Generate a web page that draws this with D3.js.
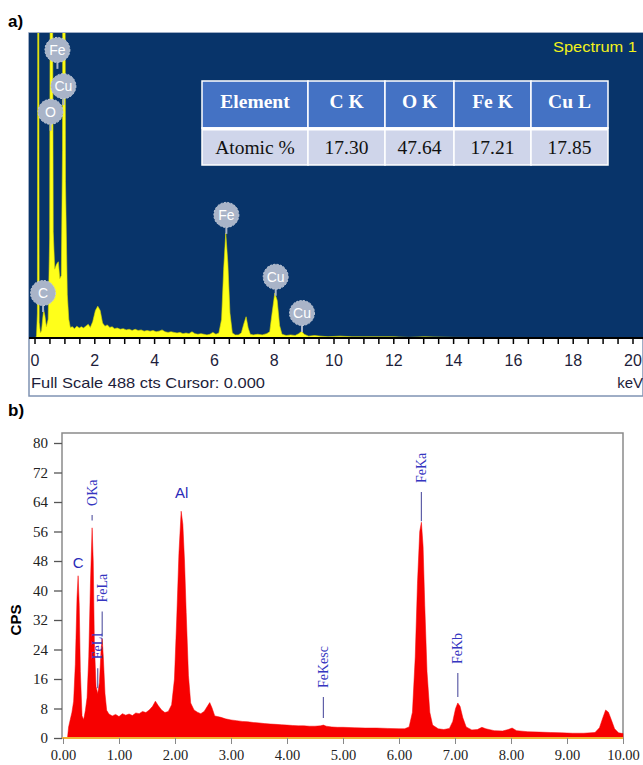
<!DOCTYPE html>
<html>
<head>
<meta charset="utf-8">
<script src="https://cdn.jsdelivr.net/npm/d3@7"></script>
<style>
  body { margin: 0; background: #fff; }
  svg { display: block; }
</style>
</head>
<body>
<svg id="chart" width="643" height="765"></svg>
<script>
// ---- panel a data (keV, counts) ----
let specA = [
  [0.00,0],[0.05,3],[0.08,40],[0.10,900],[0.12,900],[0.14,25],[0.18,8],[0.22,12],[0.26,32],[0.29,45],
  [0.33,36],[0.38,18],[0.44,30],[0.49,160],[0.52,900],[0.57,900],[0.61,170],[0.66,110],[0.72,118],
  [0.78,122],[0.83,95],[0.88,100],[0.92,300],[0.94,900],[0.99,900],[1.02,250],[1.08,70],[1.13,30],
  [1.18,17],[1.25,18],[1.32,15],[1.40,19],[1.48,16],[1.55,18],[1.62,16],[1.70,19],[1.78,22],[1.85,17],
  [1.93,26],[2.02,44],[2.10,51],[2.18,44],[2.26,24],[2.34,19],[2.42,21],[2.50,17],[2.58,18],[2.66,15],
  [2.75,16],[2.85,14],[2.95,15],[3.05,13],[3.15,14],[3.25,12],[3.35,14],[3.45,12],[3.55,13],[3.65,11],
  [3.75,12],[3.85,11],[3.95,12],[4.05,10],[4.15,11],[4.25,13],[4.35,10],[4.45,9],[4.55,10],[4.65,9],
  [4.75,8],[4.85,9],[4.95,7],[5.05,8],[5.15,7],[5.25,10],[5.35,7],[5.45,6],[5.55,7],[5.65,6],[5.75,5],
  [5.85,6],[5.95,9],[6.05,6],[6.15,8],[6.24,30],[6.31,110],[6.38,168],[6.45,120],[6.52,40],[6.60,8],
  [6.70,5],[6.80,5],[6.90,8],[6.98,22],[7.06,34],[7.13,16],[7.20,6],[7.30,5],[7.45,6],[7.60,5],[7.75,7],
  [7.85,10],[7.93,40],[8.02,72],[8.10,60],[8.18,20],[8.26,6],[8.40,4],[8.55,5],[8.70,4],[8.82,7],
  [8.92,11],[9.00,6],[9.15,3],[9.35,4],[9.55,3],[9.80,2],[10.2,3],[10.6,2],[11.0,2],[11.5,2],[12.0,2],
  [12.5,1],[13.0,2],[14.0,1],[16.0,0.5],[20.0,0]
];
let labelsA = [
  { name: "Fe", kev: 0.75, cts: 461 },
  { name: "Cu", kev: 0.95, cts: 403 },
  { name: "O",  kev: 0.52, cts: 362 },
  { name: "C",  kev: 0.27, cts: 72 },
  { name: "Fe", kev: 6.40, cts: 197 },
  { name: "Cu", kev: 8.05, cts: 98 },
  { name: "Cu", kev: 8.93, cts: 40 }
];
let ticksA = [0, 2, 4, 6, 8, 10, 12, 14, 16, 18, 20];
let tableHeaders = ["Element", "C K", "O K", "Fe K", "Cu L"];
let tableRow = ["Atomic %", "17.30", "47.64", "17.21", "17.85"];

// ---- panel b data (keV, CPS) ----
let specB = [
  [0.08,0],[0.10,3],[0.13,5],[0.16,7],[0.19,10],[0.22,20],[0.25,38],[0.27,44],[0.29,36],[0.31,18],
  [0.34,6],[0.37,5],[0.40,7.5],[0.43,11],[0.46,22],[0.49,42],[0.52,57],[0.54,48],[0.56,26],[0.59,14],
  [0.62,12],[0.65,15],[0.68,24],[0.70,27],[0.72,22],[0.75,12],[0.78,7.5],[0.82,6.5],[0.88,6],[0.94,6.4],
  [1.00,5.8],[1.06,6.6],[1.12,6.2],[1.18,6.5],[1.24,6.1],[1.30,6.8],[1.36,6.6],[1.42,7.2],[1.48,6.9],
  [1.54,7.6],[1.60,8.6],[1.65,10],[1.70,8.8],[1.76,7.6],[1.82,6.9],[1.88,7.2],[1.94,9],[1.99,16],
  [2.03,32],[2.07,50],[2.11,61.5],[2.14,58],[2.17,48],[2.20,34],[2.24,17],[2.28,9.5],[2.34,7.6],
  [2.40,7],[2.46,6.6],[2.52,7.2],[2.57,8.4],[2.62,9.6],[2.66,8.2],[2.71,6],[2.76,5.8],[2.82,5.6],
  [2.90,5.2],[3.00,4.9],[3.10,4.7],[3.20,4.5],[3.30,4.4],[3.40,4.2],[3.50,4.1],[3.60,3.9],[3.70,3.8],
  [3.80,3.7],[3.90,3.6],[4.00,3.5],[4.10,3.4],[4.20,3.3],[4.30,3.3],[4.40,3.2],[4.50,3.2],[4.60,3.3],
  [4.65,3.5],[4.70,3.2],[4.80,3.0],[4.90,2.9],[5.00,2.9],[5.20,2.8],[5.40,2.7],[5.60,2.7],[5.80,2.6],
  [6.00,2.5],[6.10,2.5],[6.18,3],[6.24,7],[6.29,22],[6.33,42],[6.37,56],[6.40,58.5],[6.43,52],[6.46,36],
  [6.50,18],[6.55,7],[6.60,3.5],[6.70,2.5],[6.80,2.3],[6.90,2.6],[6.96,4.5],[7.01,8],[7.05,9.5],
  [7.09,8.6],[7.14,5.5],[7.20,3],[7.30,2.2],[7.40,2.3],[7.48,2.9],[7.55,2.5],[7.70,2],[7.85,1.9],
  [7.95,2.3],[8.02,2.7],[8.10,2],[8.30,1.7],[8.50,1.6],[8.70,1.5],[8.90,1.4],[9.10,1.3],[9.30,1.3],
  [9.50,1.5],[9.58,2.8],[9.64,5.5],[9.69,7.6],[9.74,7],[9.79,5],[9.85,2.5],[9.92,1.4],[10.0,1.2]
];
let ticksBY = [0, 8, 16, 24, 32, 40, 48, 56, 64, 72, 80];
let ticksBX = [0, 1, 2, 3, 4, 5, 6, 7, 8, 9, 10];
// marker: line from `top` up `len` CPS units, label above it
let labelsB = [
  { name: "OKa",    kev: 0.52, top: 59,   len: 1.5 },
  { name: "FeLa",   kev: 0.70, top: 27.5, len: 6.8 },
  { name: "FeLl",   kev: 0.62, top: 13.5, len: 5.4 },
  { name: "FeKesc", kev: 4.65, top: 5.4,  len: 5.7 },
  { name: "FeKa",   kev: 6.40, top: 58.8, len: 7.9 },
  { name: "FeKb",   kev: 7.05, top: 11.1, len: 6.5 }
];
let plainLabelsB = [
  { name: "C",  kev: 0.27, cps: 46 },
  { name: "Al", kev: 2.12, cps: 65 }
];

let svg = d3.select("#chart");
let sans = "Arial, 'Liberation Sans', sans-serif";
let serif = "'Times New Roman', 'Liberation Serif', serif";

// ================= panel a =================
svg.append("text").attr("x", 8).attr("y", 27)
  .style("font-family", sans).style("font-weight", "bold").style("font-size", "17px")
  .text("a)");

svg.append("rect").attr("x", 29).attr("y", 33).attr("width", 614).attr("height", 363)
  .attr("fill", "#fff").attr("stroke", "#7f93b3").attr("stroke-width", 1.5);
svg.append("rect").attr("x", 29).attr("y", 33).attr("width", 614).attr("height", 305)
  .attr("fill", "#08346a");

let xA = d3.scaleLinear().domain([0, 20]).range([35, 633]);
let yA = d3.scaleLinear().domain([0, 488]).range([338, 33]);

svg.append("clipPath").attr("id", "clipA")
  .append("rect").attr("x", 29).attr("y", 33).attr("width", 614).attr("height", 305);

let areaA = d3.area()
  .x(d => xA(d[0]))
  .y0(yA(0))
  .y1(d => yA(d[1]));

svg.append("path").datum(specA)
  .attr("clip-path", "url(#clipA)")
  .attr("d", areaA)
  .attr("fill", "#ffff1a")
  .attr("stroke", "#d8d800")
  .attr("stroke-width", 0.6);

// axis a
let axisA = svg.append("g").attr("transform", "translate(0,338)");
axisA.append("line").attr("x1", 29).attr("x2", 643).attr("y1", 0).attr("y2", 0)
  .attr("stroke", "#000").attr("stroke-width", 2);
axisA.selectAll("line.tk").data(d3.range(0, 20.01, 0.5)).enter().append("line")
  .attr("class", "tk")
  .attr("x1", d => xA(d)).attr("x2", d => xA(d))
  .attr("y1", 0).attr("y2", 6)
  .attr("stroke", "#000").attr("stroke-width", 1.5);
axisA.selectAll("text").data(ticksA).enter().append("text")
  .attr("x", d => xA(d)).attr("y", 28)
  .attr("text-anchor", "middle")
  .style("font-family", sans).style("font-size", "16px").attr("fill", "#1d1d3a")
  .text(d => d);

svg.append("text").attr("x", 31).attr("y", 388)
  .attr("textLength", 234).attr("lengthAdjust", "spacingAndGlyphs")
  .style("font-family", sans).style("font-size", "15px").attr("fill", "#1d1d3a")
  .text("Full Scale 488 cts Cursor: 0.000");
svg.append("text").attr("x", 643).attr("y", 388).attr("text-anchor", "end")
  .style("font-family", sans).style("font-size", "15px").attr("fill", "#1d1d3a")
  .text("keV");

svg.append("text").attr("x", 553).attr("y", 52)
  .attr("textLength", 84).attr("lengthAdjust", "spacingAndGlyphs")
  .style("font-family", sans).style("font-size", "14.5px").attr("fill", "#f2f21a")
  .text("Spectrum 1");

// element bubbles
let bub = svg.selectAll("g.bub").data(labelsA).enter().append("g")
  .attr("class", "bub")
  .attr("transform", d => `translate(${xA(d.kev)},${yA(d.cts)})`);
bub.append("line").attr("x1", 0).attr("x2", 0).attr("y1", 8).attr("y2", 19)
  .attr("stroke", "#a9b4c8").attr("stroke-width", 2);
bub.append("circle").attr("r", 12.5).attr("fill", "#a9b4c8")
  .attr("stroke", "#c3cbd8").attr("stroke-width", 1).attr("stroke-dasharray", "2,1.5");
bub.append("text").attr("y", 5).attr("text-anchor", "middle")
  .style("font-family", sans).style("font-size", "14px").attr("fill", "#fff")
  .text(d => d.name);

// table
let colEdges = [202, 308, 385, 454, 531, 608];
let rowEdges = [81, 128, 165];
let tbl = svg.append("g");
tableHeaders.forEach((h, i) => {
  tbl.append("rect").attr("x", colEdges[i]).attr("y", rowEdges[0])
    .attr("width", colEdges[i + 1] - colEdges[i]).attr("height", rowEdges[1] - rowEdges[0])
    .attr("fill", "#4472c4").attr("stroke", "#fff").attr("stroke-width", 1.5);
  tbl.append("text").attr("x", (colEdges[i] + colEdges[i + 1]) / 2).attr("y", 108)
    .attr("text-anchor", "middle")
    .style("font-family", serif).style("font-weight", "bold").style("font-size", "19.5px")
    .attr("fill", "#fff").text(h);
});
tableRow.forEach((v, i) => {
  tbl.append("rect").attr("x", colEdges[i]).attr("y", rowEdges[1])
    .attr("width", colEdges[i + 1] - colEdges[i]).attr("height", rowEdges[2] - rowEdges[1])
    .attr("fill", "#cfd5ea").attr("stroke", "#fff").attr("stroke-width", 1.5);
  tbl.append("text").attr("x", (colEdges[i] + colEdges[i + 1]) / 2).attr("y", 153.5)
    .attr("text-anchor", "middle")
    .style("font-family", serif).style("font-size", "19.5px")
    .attr("fill", "#111").text(v);
});
tbl.append("line").attr("x1", 202).attr("x2", 608).attr("y1", 129).attr("y2", 129)
  .attr("stroke", "#fff").attr("stroke-width", 3);

// ================= panel b =================
svg.append("text").attr("x", 8).attr("y", 416)
  .style("font-family", sans).style("font-weight", "bold").style("font-size", "17px")
  .text("b)");

let xB = d3.scaleLinear().domain([0, 10]).range([63, 623]);
let yB = d3.scaleLinear().domain([0, 80]).range([738, 443]);

// frame
svg.append("path").attr("d", "M62,738 V433 H623 V738")
  .attr("fill", "none").attr("stroke", "#8a8a8a").attr("stroke-width", 1.5);

let areaB = d3.area()
  .x(d => xB(d[0]))
  .y0(yB(0))
  .y1(d => yB(d[1]));
svg.append("path").datum(specB).attr("d", areaB)
  .attr("fill", "#f70000").attr("stroke", "#f70000").attr("stroke-width", 0.5);

// y axis
let gy = svg.append("g").attr("transform", "translate(62,0)")
  .call(d3.axisLeft(yB).tickValues(ticksBY).tickSize(8).tickPadding(6));
gy.select(".domain").remove();
gy.selectAll("line").attr("stroke", "#555").attr("stroke-width", 1.3);
gy.selectAll("text").style("font-family", serif).style("font-size", "15px").attr("fill", "#222");

// x axis
let gx = svg.append("g").attr("transform", "translate(0,738)")
  .call(d3.axisBottom(xB).tickValues(ticksBX).tickSize(6).tickPadding(6).tickFormat(d3.format(".2f")));
gx.select(".domain").attr("stroke", "#f2b233").attr("stroke-width", 2).attr("d", "M62,0H623");
gx.selectAll("line").attr("stroke", "#888");
gx.selectAll("text").style("font-family", serif).style("font-size", "14.5px").attr("fill", "#222");

svg.append("text")
  .attr("transform", "translate(21,620) rotate(-90)")
  .attr("text-anchor", "middle")
  .style("font-family", sans).style("font-weight", "bold").style("font-size", "15px")
  .text("CPS");

// peak markers
let mk = svg.selectAll("g.mk").data(labelsB).enter().append("g")
  .attr("class", "mk");
mk.append("line")
  .attr("x1", d => xB(d.kev)).attr("x2", d => xB(d.kev))
  .attr("y1", d => yB(d.top)).attr("y2", d => yB(d.top + d.len))
  .attr("stroke", "#6060a8").attr("stroke-width", 1.2);
mk.append("text")
  .attr("transform", d => `translate(${xB(d.kev) + 4.5},${yB(d.top + d.len) - 9}) rotate(-90)`)
  .style("font-family", serif).style("font-size", "14px").attr("fill", "#3535c0")
  .text(d => d.name);

svg.selectAll("text.pl").data(plainLabelsB).enter().append("text")
  .attr("class", "pl")
  .attr("x", d => xB(d.kev)).attr("y", d => yB(d.cps))
  .attr("text-anchor", "middle")
  .style("font-family", sans).style("font-size", "15px").attr("fill", "#2a2ab8")
  .text(d => d.name);
</script>
</body>
</html>
